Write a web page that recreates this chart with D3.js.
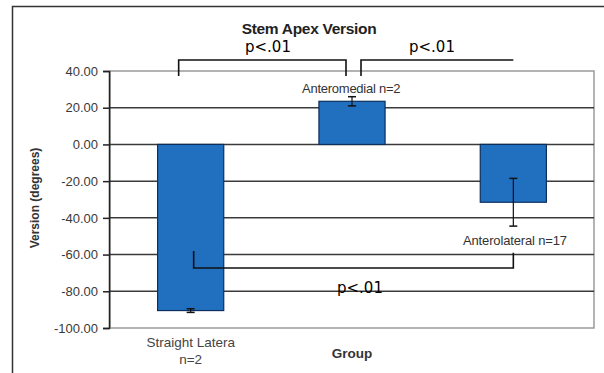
<!DOCTYPE html>
<html>
<head>
<meta charset="utf-8">
<script src="https://cdnjs.cloudflare.com/ajax/libs/d3/7.8.5/d3.min.js"></script>
<style>
  body { margin: 0; background: #fff; }
  text { font-family: "Liberation Sans", Arial, sans-serif; }
</style>
</head>
<body>
<svg id="chart" width="604" height="373"></svg>
<script>
// chart data
var categories = ['Straight Latera', 'Anteromedial', 'Anterolateral'];
var means = [-90.5, 23.5, -31.5];
var errors = [1.0, 2.5, 13.0];
var barLabels = [null, 'Anteromedial n=2', 'Anterolateral n=17'];
var yTicks = [40, 20, 0, -20, -40, -60, -80, -100];
// significance brackets: [from group, to group]
var brackets = [[0, 1], [1, 2], [0, 2]];
var pLabel = 'p<.01';

var BAR_COLOR = '#2170c0';
var BAR_STROKE = '#0d2f5e';
var GRID_COLOR = '#3a3a3a';

var svg = d3.select('#chart');
var plot = { left: 110, right: 594, top: 71, bottom: 328 };

var x = d3.scaleBand().domain(categories).range([plot.left, plot.right])
    .paddingInner(0.59).paddingOuter(0.295);
var y = d3.scaleLinear().domain([-100, 40]).range([plot.bottom, plot.top]);
var cx = function (i) { return x(categories[i]) + x.bandwidth() / 2; };
var fmt = d3.format('.2f');

// outer frame
svg.append('path').attr('d', 'M12.5,373 V6.5 H604')
    .attr('fill', 'none').attr('stroke', '#333').attr('stroke-width', 1.5);

// plot area border
svg.append('rect')
    .attr('x', plot.left).attr('y', plot.top)
    .attr('width', plot.right - plot.left).attr('height', plot.bottom - plot.top)
    .attr('fill', 'none').attr('stroke', '#9a9a9a').attr('stroke-width', 1.5);

// gridlines
svg.append('g').selectAll('line').data(yTicks.filter(function (t) { return t < 40 && t > -100; }))
    .enter().append('line')
    .attr('x1', plot.left).attr('x2', plot.right)
    .attr('y1', function (d) { return y(d); }).attr('y2', function (d) { return y(d); })
    .attr('stroke', GRID_COLOR).attr('stroke-width', 1.5);

// y axis
var yAxis = d3.axisLeft(y).tickValues(yTicks).tickSize(6).tickPadding(5)
    .tickFormat(function (d) { return fmt(d).replace('\u2212', '-'); });
var gy = svg.append('g').attr('transform', 'translate(' + (plot.left - 1) + ',0)').call(yAxis);
gy.select('.domain').attr('stroke', '#222').attr('stroke-width', 1.5);
gy.selectAll('.tick line').attr('stroke', '#222').attr('stroke-width', 1.5);
gy.selectAll('.tick text').attr('fill', '#3a3a3a').style('font-size', '13px')
    .style('font-family', '"Liberation Sans", Arial, sans-serif');

// bars
svg.append('g').selectAll('rect').data(means).enter().append('rect')
    .attr('x', function (d, i) { return x(categories[i]); })
    .attr('width', x.bandwidth())
    .attr('y', function (d) { return y(Math.max(0, d)); })
    .attr('height', function (d) { return Math.abs(y(d) - y(0)); })
    .attr('fill', BAR_COLOR).attr('stroke', BAR_STROKE).attr('stroke-width', 1.2);

// error bars
var eb = svg.append('g').selectAll('g').data(means).enter().append('g');
eb.append('line')
    .attr('x1', function (d, i) { return cx(i); }).attr('x2', function (d, i) { return cx(i); })
    .attr('y1', function (d, i) { return y(d + errors[i]); })
    .attr('y2', function (d, i) { return y(d - errors[i]); })
    .attr('stroke', '#111').attr('stroke-width', 1.2);
[1, -1].forEach(function (s) {
    eb.append('line')
        .attr('x1', function (d, i) { return cx(i) - 4; }).attr('x2', function (d, i) { return cx(i) + 4; })
        .attr('y1', function (d, i) { return y(d + s * errors[i]); })
        .attr('y2', function (d, i) { return y(d + s * errors[i]); })
        .attr('stroke', '#111').attr('stroke-width', 1.5);
});

// bar annotations
svg.append('text').attr('x', 302).attr('y', 93).text(barLabels[1])
    .attr('fill', '#333').style('font-size', '13px').style('letter-spacing', '-0.25px');
svg.append('text').attr('x', 463).attr('y', 245).text(barLabels[2])
    .attr('fill', '#333').style('font-size', '13px').style('letter-spacing', '-0.15px');

// x category label (only the first category is shown)
var xl = svg.append('text').attr('x', cx(0)).attr('text-anchor', 'middle')
    .attr('fill', '#444').style('font-size', '13.5px');
xl.append('tspan').attr('x', cx(0)).attr('y', 347).text(categories[0]);
xl.append('tspan').attr('x', cx(0)).attr('y', 364).text('n=2');

// axis titles
svg.append('text').attr('x', 352).attr('y', 358).attr('text-anchor', 'middle')
    .text('Group').attr('fill', '#333').style('font-size', '13.5px').style('font-weight', 'bold');
svg.append('text').attr('transform', 'translate(39,198)rotate(-90)').attr('text-anchor', 'middle')
    .text('Version (degrees)').attr('fill', '#333').style('font-size', '12px').style('font-weight', 'bold');

// title
svg.append('text').attr('x', 309).attr('y', 34).attr('text-anchor', 'middle')
    .text('Stem Apex Version').attr('fill', '#222')
    .style('font-size', '15.5px').style('font-weight', 'bold').style('letter-spacing', '-0.3px');

// significance brackets
var bk = svg.append('g').attr('fill', 'none').attr('stroke', '#111').attr('stroke-width', 1.6);
// top-left bracket: Straight Latera -> Anteromedial
bk.append('path').attr('d', 'M' + (cx(0) - 12) + ',76 V60 H' + (cx(1) - 6) + ' V76');
// top-right bracket: Anteromedial -> Anterolateral
bk.append('path').attr('d', 'M' + (cx(1) + 9) + ',76 V60 H' + cx(2));
// bottom bracket: Straight Latera -> Anterolateral
bk.append('path').attr('d', 'M' + (cx(0) + 3) + ',' + y(-58) + ' V268 H' + cx(2) + ' V' + y(-59));

var pStyle = function (sel) {
    return sel.text(pLabel).attr('fill', '#000').style('font-size', '15px')
        .style('font-family', '"DejaVu Sans", sans-serif');
};
pStyle(svg.append('text').attr('x', 245).attr('y', 52));
pStyle(svg.append('text').attr('x', 409).attr('y', 52));
pStyle(svg.append('text').attr('x', 337).attr('y', 293));
</script>
</body>
</html>
